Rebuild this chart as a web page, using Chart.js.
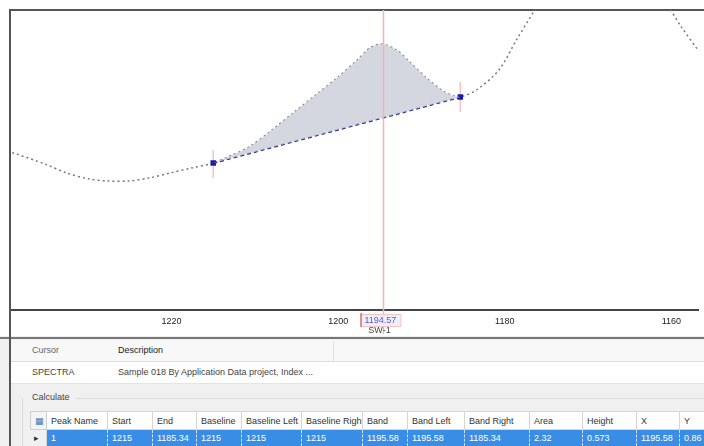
<!DOCTYPE html>
<html>
<head>
<meta charset="utf-8">
<script src="https://cdn.jsdelivr.net/npm/chart.js@4"></script>
<style>
  html, body { margin: 0; padding: 0; }
  body { width: 704px; height: 446px; overflow: hidden; background: #fff; position: relative;
         font-family: "Liberation Sans", "DejaVu Sans", sans-serif; font-size: 9px; color: #333; }
  #wrap { position: absolute; left: 0; top: 0; width: 704px; height: 336px; }
  #panel { position: absolute; left: 0; top: 336px; width: 704px; height: 110px; background: #f0f0f0; }
  .abs { position: absolute; white-space: nowrap; overflow: hidden; }
  .cell { position: absolute; top: 0; height: 19px; line-height: 19px; padding-left: 4px; box-sizing: border-box;
          white-space: nowrap; overflow: hidden; border-right: 1px solid #d6d6d6; }
</style>
</head>
<body>
<div id="wrap"><canvas id="spectrum_chart"></canvas></div>
<div id="panel">
  <div class="abs" style="left:0;top:1px;width:704px;height:2px;background:#777;"></div>
  <div class="abs" style="left:11px;top:4px;width:693px;height:21px;background:#f8f8f8;border-bottom:1px solid #ddd;"></div>
  <div class="abs" style="left:32px;top:9px;color:#666;">Cursor</div>
  <div class="abs" style="left:118px;top:9px;color:#222;">Description</div>
  <div class="abs" style="left:333px;top:5px;width:1px;height:20px;background:#e2e2e2;"></div>
  <div class="abs" style="left:11px;top:26px;width:693px;height:21px;background:#fff;border-bottom:1px solid #e4e4e4;"></div>
  <div class="abs" style="left:32px;top:31px;color:#444;">SPECTRA</div>
  <div class="abs" style="left:118px;top:31px;color:#444;">Sample 018 By Application Data project, Index ...</div>
  <div class="abs" style="left:32px;top:56px;color:#444;">Calculate</div>
  <div class="abs" style="left:76px;top:62px;width:628px;height:1px;background:#dcdcdc;"></div>
  <div class="abs" style="left:22px;top:62px;width:1px;height:48px;background:#dcdcdc;"></div>
  <div id="grid" class="abs" style="left:30px;top:75px;width:674px;height:35px;"></div>
</div>
<div class="abs" style="left:9px;top:9px;width:2px;height:437px;background:#555;"></div>
<script>
// spectrum (wavenumber in cm-1, absorbance)
const wavenumbers = [1242, 1239.0, 1235.2, 1232.6, 1229.9, 1227.7, 1225.1, 1222.7, 1220.2, 1217.6, 1215,
  1213.0, 1210.7, 1208.1, 1205.4, 1202.7, 1200.0, 1197.7, 1196.2, 1194.8, 1193.0, 1191.4, 1189.4,
  1187.4, 1186.1, 1185.34, 1183.4, 1180.7, 1178.6, 1176.4, 1173.9, 1168.0, 1163.0, 1160.1, 1158.8,
  1156.8, 1155];
const absorbance = [0.66, 0.628, 0.584, 0.548, 0.524, 0.516, 0.516, 0.528, 0.548, 0.568, 0.588,
  0.616, 0.652, 0.716, 0.788, 0.860, 0.932, 1.000, 1.048, 1.064, 1.040, 0.992, 0.928,
  0.876, 0.856, 0.852, 0.880, 0.960, 1.080, 1.200, 1.330, 1.450, 1.330, 1.200, 1.132,
  1.040, 0.96];
const peakStart = 1215;
const peakEnd = 1185.34;
const baselineValues = [0.588, 0.852];
const cursorX = 1194.57;
const cursorLabel = "1194.57";
const cursorName = "SW-1";
const tickValues = [1240, 1220, 1200, 1180, 1160];
const xMin = 1156.8;
const xMax = 1239.4;

const tableHeaders = ["Peak Name", "Start", "End", "Baseline", "Baseline Left", "Baseline Right",
  "Band", "Band Left", "Band Right", "Area", "Height", "X", "Y"];
const tableRow = ["1", "1215", "1185.34", "1215", "1215", "1215", "1195.58", "1195.58", "1185.34",
  "2.32", "0.573", "1195.58", "0.86"];

const spectrumPoints = wavenumbers.map((w, i) => ({ x: w, y: absorbance[i] }));
const peakPoints = spectrumPoints.filter((p) => p.x <= peakStart && p.x >= peakEnd);
const baselinePoints = [{ x: peakStart, y: baselineValues[0] }, { x: peakEnd, y: baselineValues[1] }];

const framePlugin = {
  id: "frame",
  beforeDatasetsDraw(chart) {
    const { ctx, chartArea } = chart;
    ctx.save();
    ctx.strokeStyle = "#555";
    ctx.lineWidth = 2;
    ctx.beginPath();
    ctx.moveTo(chartArea.left, chartArea.top);
    ctx.lineTo(chart.width, chartArea.top);
    ctx.stroke();
    ctx.restore();
  },
  afterDraw(chart) {
    const { ctx, chartArea } = chart;
    const xs = chart.scales.x;
    const cx = Math.round(xs.getPixelForValue(cursorX)) + 0.5;
    ctx.save();
    // cursor line
    ctx.strokeStyle = "#f6b3b3";
    ctx.lineWidth = 1.5;
    ctx.beginPath();
    ctx.moveTo(cx, chartArea.top);
    ctx.lineTo(cx, chartArea.bottom + 24);
    ctx.stroke();
    // cursor label
    ctx.font = "9px 'Liberation Sans', sans-serif";
    const w = ctx.measureText(cursorLabel).width + 8;
    const bx = cx - 23;
    ctx.fillStyle = "rgba(240,236,250,0.9)";
    ctx.fillRect(bx, chartArea.bottom + 4, w, 12);
    ctx.strokeStyle = "#f3c4c4";
    ctx.lineWidth = 1;
    ctx.strokeRect(bx + 0.5, chartArea.bottom + 4.5, w, 12);
    ctx.strokeStyle = "#d04040";
    ctx.beginPath();
    ctx.moveTo(bx + 0.5, chartArea.bottom + 3);
    ctx.lineTo(bx + 0.5, chartArea.bottom + 17);
    ctx.stroke();
    ctx.fillStyle = "#5c5cd6";
    ctx.textBaseline = "middle";
    ctx.fillText(cursorLabel, bx + 4, chartArea.bottom + 10.5);
    ctx.fillStyle = "#444";
    ctx.textAlign = "center";
    ctx.fillText(cursorName, cx - 4, chartArea.bottom + 21);
    ctx.restore();
  },
};

const ctx = document.getElementById("spectrum_chart");

const spectrumChart = new Chart(ctx, {
  type: "scatter",
  data: {
    datasets: [
      {
        label: "Peak area",
        data: peakPoints,
        showLine: true,
        tension: 0.3,
        pointRadius: 0,
        borderWidth: 0,
        fill: "+1",
        backgroundColor: "rgba(204, 208, 218, 0.85)",
      },
      {
        label: "Baseline",
        data: baselinePoints,
        showLine: true,
        borderColor: "#2a2a8e",
        borderWidth: 2,
        borderDash: [4, 3],
        pointStyle: "rect",
        pointRadius: 2.5,
        pointBackgroundColor: "#1c1ca8",
        pointBorderColor: "#1c1ca8",
      },
      {
        label: "Start marker",
        data: [{ x: peakStart, y: 0.528 }, { x: peakStart, y: 0.64 }],
        showLine: true,
        borderColor: "#f6c2c2",
        borderWidth: 1.5,
        pointRadius: 0,
      },
      {
        label: "End marker",
        data: [{ x: peakEnd, y: 0.792 }, { x: peakEnd, y: 0.912 }],
        showLine: true,
        borderColor: "#f6c2c2",
        borderWidth: 1.5,
        pointRadius: 0,
      },
      {
        label: "Spectrum",
        data: spectrumPoints,
        showLine: true,
        tension: 0.3,
        borderColor: "#7a7a7a",
        borderWidth: 1.5,
        borderDash: [2, 3],
        pointRadius: 0,
      },
    ],
  },
  options: {
    responsive: true,
    maintainAspectRatio: false,
    animation: false,
    layout: { padding: { left: 10, top: 10, right: 0, bottom: 0 } },
    plugins: { legend: { display: false }, tooltip: { enabled: false } },
    scales: {
      x: {
        type: "linear",
        reverse: true,
        min: xMin,
        max: xMax,
        afterBuildTicks: (scale) => {
          scale.ticks = tickValues.filter((v) => v >= xMin && v <= xMax).map((v) => ({ value: v }));
        },
        afterFit: (scale) => {
          scale.height = 26;
        },
        grid: { display: false, drawTicks: false },
        border: { display: true, color: "#444", width: 2 },
        ticks: {
          color: "#222",
          padding: 6,
          maxRotation: 0,
          font: { family: "'Liberation Sans', sans-serif", size: 9 },
          callback: (value) => String(value),
        },
      },
      y: {
        display: false,
        min: 0,
        max: 1.2,
      },
    },
  },
  plugins: [framePlugin],
});

// calculation table
const colLefts = [17, 78, 123, 167, 212, 272, 333, 378, 435, 500, 553, 607, 650, 700];
const grid = document.getElementById("grid");
let html = '<div class="cell" style="left:0;width:17px;background:#f4f4f4;border:1px solid #cfcfcf;color:#4a7ab8;">&#9638;</div>';
html += '<div class="cell" style="left:0;top:19px;height:16px;line-height:16px;width:17px;background:#f0f0f0;color:#333;">&#9656;</div>';
tableHeaders.forEach((h, i) => {
  const l = colLefts[i];
  const w = colLefts[i + 1] - l;
  html += '<div class="cell" style="left:' + l + 'px;width:' + w + 'px;background:#fff;border-top:1px solid #d6d6d6;border-bottom:1px solid #d6d6d6;color:#333;">' + h + "</div>";
  html += '<div class="cell" style="left:' + l + 'px;top:19px;height:16px;line-height:16px;width:' + w + 'px;background:#3a8de4;color:#fff;border-right:1px dashed #cfe2f8;">' + tableRow[i] + "</div>";
});
grid.innerHTML = html;
</script>
</body>
</html>
